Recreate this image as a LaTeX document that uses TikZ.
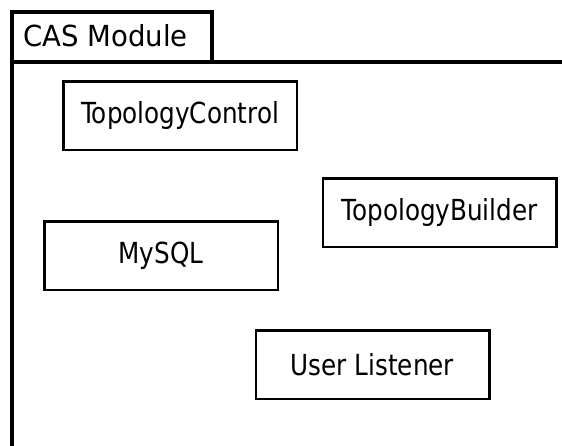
\documentclass[tikz,border=0pt]{standalone}
\usepackage{fontspec}
\setmainfont{DejaVu Sans}
\newfontfamily\compfont[FakeStretch=0.85]{DejaVu Sans}
\newfontfamily\pkgfont[FakeStretch=0.95]{DejaVu Sans}
\begin{document}
\begin{tikzpicture}[x=1pt,y=-1pt,
  comp/.style={draw, line width=2.5pt, minimum width=233.5pt, minimum height=68.5pt,
    inner sep=0pt, font=\compfont\fontsize{29}{34}\selectfont},
  pkgline/.style={line width=4pt},
  pkglabel/.style={inner sep=0pt, anchor=west, font=\pkgfont\fontsize{29}{34}\selectfont}]
\useasboundingbox (0,0) rectangle (562,445);
\clip (0,0) rectangle (562,445);
% package frame: tab on top, body running off the right and bottom edges
\coordinate (tabNW) at (12,12);
\coordinate (tabSE) at (212,62);
\coordinate (bodyW) at (12,62);
\coordinate (bodyE) at (570,62);
\coordinate (bodySW) at (12,460);
\draw[pkgline] (bodySW) -- (tabNW) -- (tabNW -| tabSE) -- (tabSE);
\draw[pkgline] (bodyW) -- (bodyE);
\node[pkglabel] (pkg) at (23,35.5) {CAS Module};
% components
\node[comp] (ctrl) at (180,115.5) {TopologyControl};
\node[comp] (builder) at (439.5,212.5) {TopologyBuilder};
\node[comp] (mysql) at (161,255.5) {MySQL};
\node[comp] (listener) at (372.5,364.5) {User Listener};
\end{tikzpicture}
\end{document}
